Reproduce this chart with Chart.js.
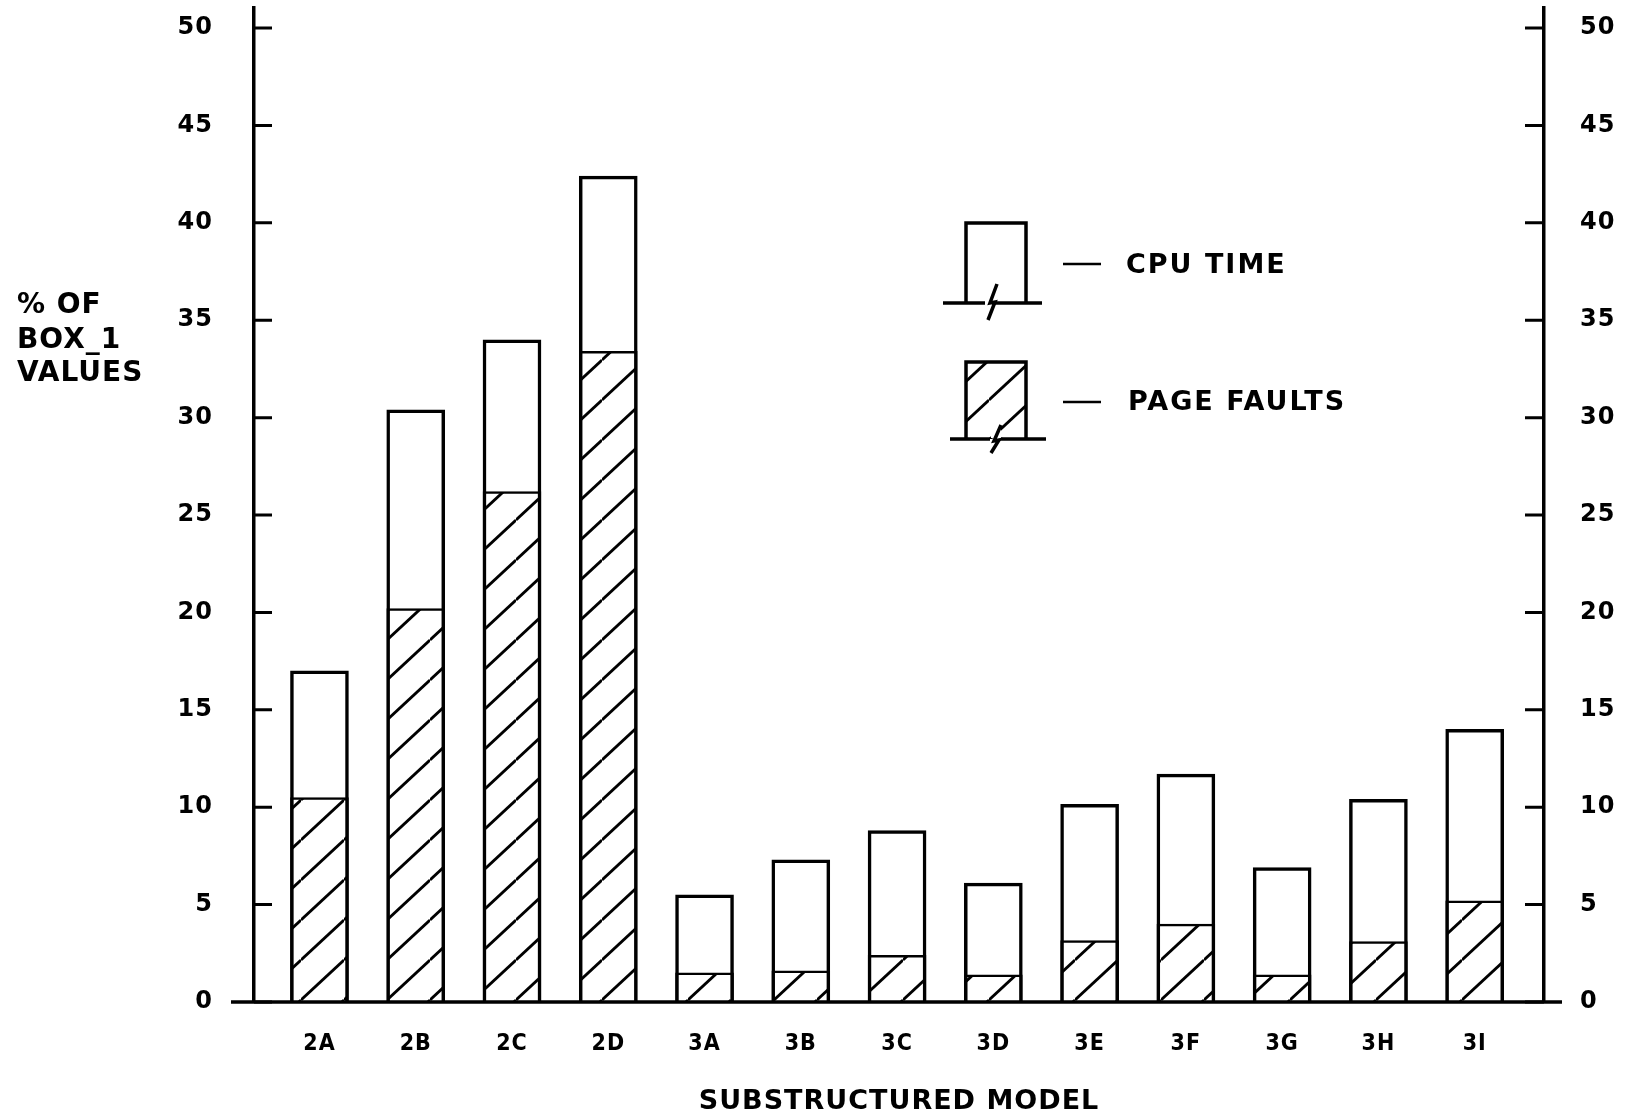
<!DOCTYPE html>
<html lang="en">
<head>
    <meta charset="UTF-8">
    <title>Substructured Model</title>
    <style>
        body { margin: 0; background: #fff; }
        #wrap { width: 1628px; height: 1120px; }
    </style>
</head>
<body>
    <div id="wrap"><canvas id="chart" width="1628" height="1120"></canvas></div>

    <script src="https://cdn.jsdelivr.net/npm/chart.js"></script>
    <script>
        // values (% of BOX_1 values)
        const models = ['2A', '2B', '2C', '2D', '3A', '3B', '3C', '3D', '3E', '3F', '3G', '3H', '3I'];
        const cpuTime = [17.0, 30.4, 34.0, 42.4, 5.5, 7.3, 8.8, 6.1, 10.15, 11.7, 6.9, 10.4, 14.0];
        const pageFaults = [10.5, 20.2, 26.2, 33.4, 1.5, 1.6, 2.4, 1.4, 3.15, 4.0, 1.4, 3.1, 5.2];
        const yTicks = [0, 5, 10, 15, 20, 25, 30, 35, 40, 45, 50];

        const tickFont = { family: "'DejaVu Sans', sans-serif", size: 24, weight: 'bold' };
        const labelFont = { family: "'DejaVu Sans Condensed', 'DejaVu Sans', sans-serif", size: 23, weight: 'bold' };

        // diagonal hatching for the page-fault bars
        function makeHatch() {
            const c = document.createElement('canvas');
            c.width = 43;
            c.height = 40;
            const g = c.getContext('2d');
            g.fillStyle = '#fff';
            g.fillRect(0, 0, 43, 40);
            g.strokeStyle = '#000';
            g.lineWidth = 2.8;
            for (let k = -1; k <= 1; k++) {
                g.beginPath();
                g.moveTo(0, 40 + k * 40);
                g.lineTo(43, 0 + k * 40);
                g.stroke();
            }
            return g.createPattern(c, 'repeat');
        }
        const hatch = makeHatch();

        function noPad(s) {
            s.paddingTop = 0;
            s.paddingBottom = 0;
            s.paddingLeft = 0;
            s.paddingRight = 0;
        }

        // inward tick marks, extended base line, y title and legend
        const decor = {
            id: 'decor',
            beforeDraw(chart) {
                chart.ctx.letterSpacing = '1px';
            },
            afterDraw(chart) {
                const ctx = chart.ctx;
                const yl = chart.scales.y;
                const yr = chart.scales.y2;
                const area = chart.chartArea;
                ctx.save();
                ctx.strokeStyle = '#000';
                ctx.lineWidth = 3;
                yTicks.forEach(v => {
                    const py = yl.getPixelForValue(v);
                    ctx.beginPath();
                    ctx.moveTo(area.left, py);
                    ctx.lineTo(area.left + 18, py);
                    ctx.moveTo(area.right, yr.getPixelForValue(v));
                    ctx.lineTo(area.right - 19, yr.getPixelForValue(v));
                    ctx.stroke();
                });
                const y0 = yl.getPixelForValue(0);
                ctx.lineWidth = 3.5;
                ctx.beginPath();
                ctx.moveTo(area.left - 23, y0);
                ctx.lineTo(area.right + 18, y0);
                ctx.stroke();

                // y axis title
                ctx.fillStyle = '#000';
                ctx.font = "bold 28px 'DejaVu Sans', sans-serif";
                ctx.textAlign = 'left';
                ctx.textBaseline = 'alphabetic';
                ctx.letterSpacing = '1px';
                ctx.fillText('% OF', 17, 313);
                ctx.fillText('BOX_1', 17, 348);
                ctx.fillText('VALUES', 17, 381);

                // legend
                ctx.lineWidth = 3.5;
                ctx.fillStyle = '#fff';
                ctx.fillRect(966, 223, 60, 80);
                ctx.beginPath();
                ctx.moveTo(966, 303);
                ctx.lineTo(966, 223);
                ctx.lineTo(1026, 223);
                ctx.lineTo(1026, 303);
                ctx.moveTo(943, 303);
                ctx.lineTo(985, 303);
                ctx.moveTo(995, 303);
                ctx.lineTo(1042, 303);
                ctx.stroke();
                ctx.beginPath();
                ctx.moveTo(997, 284);
                ctx.lineTo(990, 303);
                ctx.lineTo(995, 302);
                ctx.lineTo(988, 320);
                ctx.stroke();

                ctx.fillStyle = hatch;
                ctx.fillRect(966, 362, 60, 77);
                ctx.beginPath();
                ctx.moveTo(966, 439);
                ctx.lineTo(966, 362);
                ctx.lineTo(1026, 362);
                ctx.lineTo(1026, 439);
                ctx.moveTo(950, 439);
                ctx.lineTo(990, 439);
                ctx.moveTo(1000, 439);
                ctx.lineTo(1046, 439);
                ctx.stroke();
                ctx.fillStyle = '#fff';
                ctx.fillRect(991, 428, 10, 10);
                ctx.beginPath();
                ctx.moveTo(1001, 425);
                ctx.lineTo(994, 441);
                ctx.lineTo(999, 440);
                ctx.lineTo(991, 453);
                ctx.stroke();

                ctx.lineWidth = 2.5;
                ctx.beginPath();
                ctx.moveTo(1063, 264);
                ctx.lineTo(1101, 264);
                ctx.moveTo(1063, 402);
                ctx.lineTo(1101, 402);
                ctx.stroke();

                ctx.fillStyle = '#000';
                ctx.font = "bold 27px 'DejaVu Sans', sans-serif";
                ctx.textBaseline = 'middle';
                ctx.letterSpacing = '2px';
                ctx.fillText('CPU TIME', 1126, 266);
                ctx.fillText('PAGE FAULTS', 1128, 403);
                ctx.restore();
            }
        };

        new Chart(document.getElementById('chart'), {
            type: 'bar',
            data: {
                datasets: [
                    {
                        label: 'PAGE FAULTS',
                        data: pageFaults.map((v, i) => ({ x: i, y: v })),
                        backgroundColor: hatch,
                        borderColor: '#000',
                        borderWidth: { top: 2.5, left: 3.5, right: 3.5, bottom: 0 },
                        borderSkipped: false,
                        barThickness: 58,
                        grouped: false,
                        order: 0
                    },
                    {
                        label: 'CPU TIME',
                        data: cpuTime.map((v, i) => ({ x: i, y: v })),
                        backgroundColor: '#fff',
                        borderColor: '#000',
                        borderWidth: { top: 3.5, left: 3.5, right: 3.5, bottom: 0 },
                        borderSkipped: false,
                        barThickness: 58,
                        grouped: false,
                        order: 1
                    }
                ]
            },
            options: {
                responsive: false,
                animation: false,
                layout: { padding: { top: 8, left: 0, right: 0, bottom: 0 } },
                plugins: {
                    legend: { display: false },
                    tooltip: { enabled: false }
                },
                scales: {
                    x: {
                        type: 'linear',
                        offset: false,
                        min: -0.68,
                        max: 12.72,
                        grid: { display: false },
                        border: { display: false },
                        afterFit: s => { s.height = 118; noPad(s); },
                        afterBuildTicks: s => { s.ticks = models.map((m, i) => ({ value: i })); },
                        ticks: {
                            autoSkip: false,
                            maxRotation: 0,
                            padding: 20,
                            color: '#000',
                            font: labelFont,
                            callback: v => models[v] ?? ''
                        },
                        title: {
                            display: true,
                            text: 'SUBSTRUCTURED MODEL',
                            color: '#000',
                            font: { family: "'DejaVu Sans', sans-serif", size: 27, weight: 'bold' },
                            padding: { top: 0, bottom: 2 }
                        }
                    },
                    y: {
                        position: 'left',
                        min: 0,
                        max: 51.03,
                        grid: { display: false, drawTicks: false },
                        border: { display: true, color: '#000', width: 3.5 },
                        afterFit: s => { s.width = 254; noPad(s); },
                        afterBuildTicks: s => { s.ticks = yTicks.map(v => ({ value: v })); },
                        ticks: { padding: 41, color: '#000', font: tickFont }
                    },
                    y2: {
                        position: 'right',
                        min: 0,
                        max: 51.03,
                        grid: { display: false, drawTicks: false },
                        border: { display: true, color: '#000', width: 3.5 },
                        afterFit: s => { s.width = 84; noPad(s); },
                        afterBuildTicks: s => { s.ticks = yTicks.map(v => ({ value: v })); },
                        ticks: { padding: 36, color: '#000', font: tickFont }
                    }
                }
            },
            plugins: [decor]
        });
    </script>
</body>
</html>
